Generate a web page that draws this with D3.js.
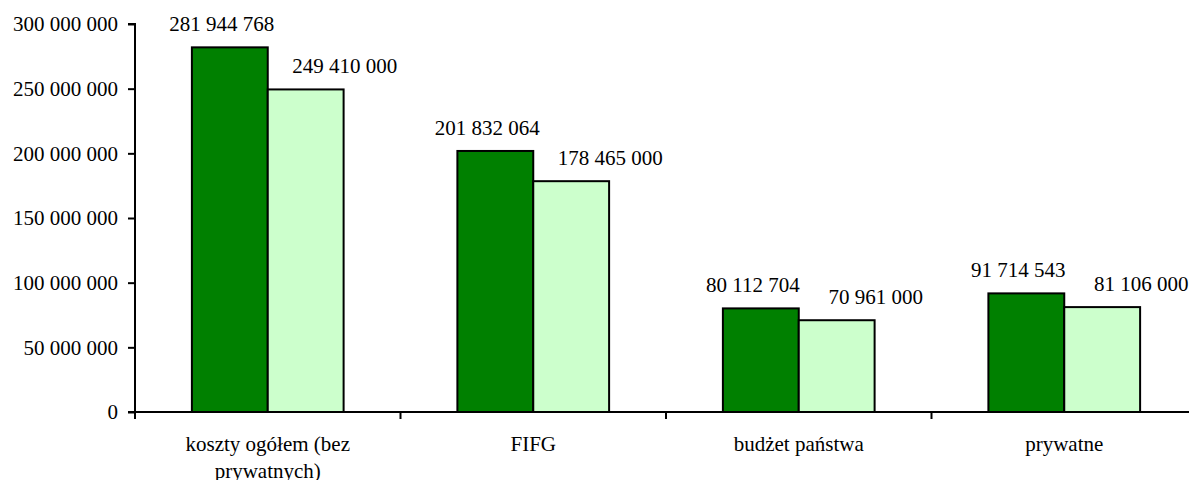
<!DOCTYPE html>
<html><head><meta charset="utf-8">
<script src="https://cdn.jsdelivr.net/npm/d3@7"></script>
<style>
body{margin:0;background:#fff;}
svg text{font-family:"Liberation Serif","DejaVu Serif","Times New Roman",serif !important;}
</style></head>
<body><svg id="c" width="1189" height="480"></svg>
<script>
const categories = ["koszty ogółem (bez prywatnych)", "FIFG", "budżet państwa", "prywatne"];
const seriesNames = ["s1", "s2"];
const series1 = [281944768, 201832064, 80112704, 91714543];
const series2 = [249410000, 178465000, 70961000, 81106000];
const yTicks = [0, 50000000, 100000000, 150000000, 200000000, 250000000, 300000000];
const colors = ["#008000", "#CCFFCC"];

const svg = d3.select("#c");
const x0 = 135, x1 = 1197, yTop = 24, yBot = 412;
const fs = 21;
const FF = "'Liberation Serif', 'DejaVu Serif', serif";
const fmt = v => d3.format(",")(v).replace(/,/g, " ");

const x = d3.scaleBand().domain(categories).range([x0, x1]).paddingInner(0).paddingOuter(0);
const xs = d3.scaleBand().domain(seriesNames).range([0, x.bandwidth()]).paddingInner(0).paddingOuter(0.75);
const y = d3.scaleLinear().domain([0, 300000000]).range([yBot, yTop]);

const data = categories.map((c, i) => ({c, vals: [series1[i], series2[i]]}));

const g = svg.append("g");
const groups = g.selectAll("g.cat").data(data).enter().append("g")
  .attr("transform", d => `translate(${x(d.c)},0)`);

groups.selectAll("rect").data(d => d.vals.map((v, k) => ({v, k}))).enter().append("rect")
  .attr("x", d => xs(seriesNames[d.k]))
  .attr("y", d => y(d.v))
  .attr("width", xs.bandwidth())
  .attr("height", d => yBot - y(d.v))
  .attr("fill", d => colors[d.k])
  .attr("stroke", "#000")
  .attr("stroke-width", 2);

const labOff = [-8, 39];
groups.selectAll("text.val").data(d => d.vals.map((v, k) => ({v, k}))).enter().append("text")
  .attr("class", "val")
  .attr("x", d => xs(seriesNames[d.k]) + xs.bandwidth() / 2 + labOff[d.k])
  .attr("y", d => y(d.v) - 16)
  .attr("text-anchor", "middle")
  .style("font-family", FF)
  .style("font-size", fs + "px")
  .attr("fill", "#000")
  .text(d => fmt(d.v));

// y axis
const ya = svg.append("g").attr("transform", `translate(${x0},0)`)
  .call(d3.axisLeft(y).tickValues(yTicks).tickSize(7).tickPadding(10).tickFormat(fmt));
ya.attr("font-family", null).attr("font-size", null);
ya.select(".domain").attr("stroke", "#000").attr("stroke-width", 2).attr("d", `M-7,${yTop}H0V${yBot}`);
ya.selectAll(".tick line").attr("stroke", "#000").attr("stroke-width", 2);
ya.selectAll(".tick text").style("font-family", FF).style("font-size", fs + "px").attr("fill", "#000").attr("dy", "0.33em");

// x axis
const xa = svg.append("g").attr("transform", `translate(0,${yBot})`);
xa.append("line").attr("x1", x0 - 7).attr("x2", x1).attr("y1", 0).attr("y2", 0)
  .attr("stroke", "#000").attr("stroke-width", 2);
const bounds = categories.map(c => x(c)).concat([x1]);
xa.selectAll("line.tk").data(bounds).enter().append("line").attr("class", "tk")
  .attr("x1", d => d).attr("x2", d => d).attr("y1", 0).attr("y2", 7)
  .attr("stroke", "#000").attr("stroke-width", 2);

const catLines = {"koszty ogółem (bez prywatnych)": ["koszty ogółem (bez", "prywatnych)"]};
xa.selectAll("text.cat").data(categories).enter().append("text").attr("class", "cat")
  .attr("x", d => x(d) + x.bandwidth() / 2)
  .attr("y", 39)
  .attr("text-anchor", "middle")
  .style("font-family", FF)
  .style("font-size", fs + "px")
  .attr("fill", "#000")
  .each(function(d) {
    const lines = catLines[d] || [d];
    const t = d3.select(this);
    lines.forEach((l, i) => {
      t.append("tspan").attr("x", x(d) + x.bandwidth() / 2).attr("dy", i === 0 ? 0 : 27).text(l);
    });
  });
</script>
</body></html>
